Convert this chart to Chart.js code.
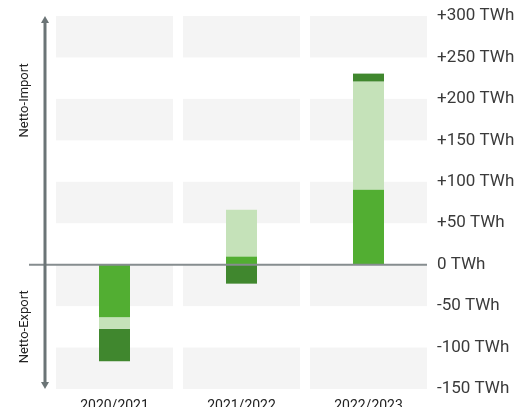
<!DOCTYPE html>
<html>
<head>
<meta charset="utf-8">
<script src="https://cdn.jsdelivr.net/npm/chart.js@4"></script>
<style>
  html, body { margin: 0; padding: 0; background: #fff; overflow: hidden; }
  #wrap { width: 528px; height: 412px; }
</style>
</head>
<body>
<div id="wrap"><canvas id="barChart"></canvas></div>
<script>
const categories = ['2020/2021', '2021/2022', '2022/2023'];
const mediumValues = [-63.5, 9.7, 90.5];
const lightValues = [-13.7, 56.7, 130.3];
const darkValues = [-39.4, -22.9, 9.7];
const yTickValues = [300, 250, 200, 150, 100, 50, 0, -50, -100, -150];
const shadedBands = [[250, 300], [150, 200], [50, 100], [-50, 0], [-150, -100]];
const sideLabels = ['Netto-Import', 'Netto-Export'];

const ctx = document.getElementById('barChart').getContext('2d');

// grey bands behind each column, zero line and the import/export arrow
const decorations = {
  id: 'decorations',
  beforeDatasetsDraw(chart) {
    const { ctx, scales: { x, y } } = chart;
    const half = (x.right - x.left) / categories.length / 2 - 5;
    ctx.save();
    ctx.fillStyle = '#f4f4f4';
    shadedBands.forEach(([lo, hi]) => {
      const top = y.getPixelForValue(hi);
      const bottom = y.getPixelForValue(lo);
      categories.forEach((c, i) => {
        const cx = x.getPixelForValue(i);
        ctx.fillRect(cx - half, top, half * 2, bottom - top);
      });
    });
    ctx.restore();
  },
  afterDatasetsDraw(chart) {
    const { ctx, scales: { x, y } } = chart;
    const y0 = y.getPixelForValue(0);
    const yTop = y.getPixelForValue(y.max);
    const yBottom = y.getPixelForValue(y.min);
    const half = (x.right - x.left) / categories.length / 2 - 5;
    ctx.save();
    ctx.strokeStyle = '#868d8f';
    ctx.lineWidth = 2;
    ctx.beginPath();
    ctx.moveTo(29, y0);
    ctx.lineTo(x.getPixelForValue(categories.length - 1) + half, y0);
    ctx.stroke();

    const ax = 45;
    ctx.strokeStyle = '#6b7476';
    ctx.fillStyle = '#6b7476';
    ctx.lineWidth = 3;
    ctx.beginPath();
    ctx.moveTo(ax, yTop + 5);
    ctx.lineTo(ax, yBottom - 5);
    ctx.stroke();
    ctx.beginPath();
    ctx.moveTo(ax, yTop);
    ctx.lineTo(ax - 4, yTop + 7);
    ctx.lineTo(ax + 4, yTop + 7);
    ctx.closePath();
    ctx.fill();
    ctx.beginPath();
    ctx.moveTo(ax, yBottom);
    ctx.lineTo(ax - 4, yBottom - 7);
    ctx.lineTo(ax + 4, yBottom - 7);
    ctx.closePath();
    ctx.fill();

    ctx.fillStyle = '#222';
    ctx.font = '13px Roboto';
    ctx.textAlign = 'center';
    ctx.textBaseline = 'middle';
    [[sideLabels[0], (yTop + y0) / 2 - 40], [sideLabels[1], (y0 + yBottom) / 2]].forEach(([t, cy]) => {
      ctx.save();
      ctx.translate(25, cy);
      ctx.rotate(-Math.PI / 2);
      ctx.fillText(t, 0, 0);
      ctx.restore();
    });
    ctx.restore();
  }
};

new Chart(ctx, {
  type: 'bar',
  data: {
    labels: categories,
    datasets: [
      { data: mediumValues, backgroundColor: '#52ae32' },
      { data: lightValues, backgroundColor: '#c5e2b9' },
      { data: darkValues, backgroundColor: '#40872e' }
    ]
  },
  options: {
    responsive: true,
    maintainAspectRatio: false,
    animation: false,
    layout: { padding: { left: 51, top: 16, right: 0, bottom: 0 } },
    datasets: { bar: { categoryPercentage: 1, barPercentage: 31 / 127 } },
    plugins: { legend: { display: false }, tooltip: { enabled: false } },
    scales: {
      x: {
        stacked: true,
        grid: { display: false, drawTicks: false },
        border: { display: false },
        ticks: { color: '#222', font: { family: 'Roboto', size: 14 }, padding: 9, maxRotation: 0 },
        afterFit(scale) {
          scale.height = 23;
          scale.paddingLeft = 0;
          scale.paddingRight = 0;
        }
      },
      y: {
        stacked: true,
        position: 'right',
        min: -150,
        max: 300,
        afterBuildTicks(scale) {
          scale.ticks = yTickValues.map(v => ({ value: v }));
        },
        grid: { display: false, drawTicks: false },
        border: { display: false },
        ticks: {
          color: '#3a3a3a',
          font: { family: 'Roboto', size: 17 },
          padding: 5,
          callback: v => (v > 0 ? '+' : '') + v + ' TWh'
        },
        afterFit(scale) {
          scale.width = 96;
          scale.paddingTop = 0;
          scale.paddingBottom = 0;
        }
      }
    }
  },
  plugins: [decorations]
});
</script>
</body>
</html>
